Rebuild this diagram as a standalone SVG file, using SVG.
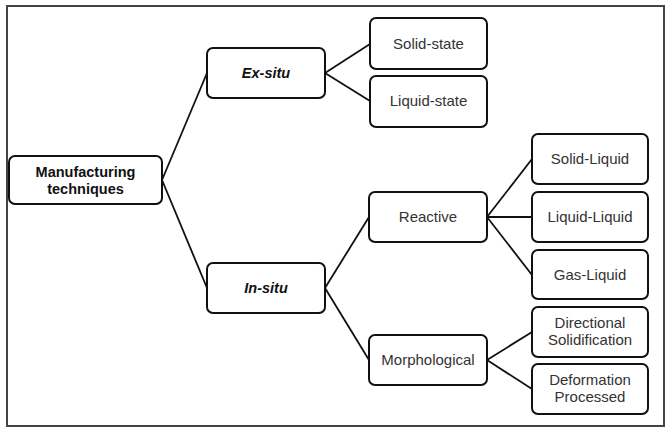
<svg xmlns="http://www.w3.org/2000/svg" width="665" height="428" viewBox="0 0 665 428">
<style>
.box{fill:#fff;stroke:#111;stroke-width:2}
.t{font-family:"Liberation Sans",Arial,sans-serif;font-size:15px;fill:#333;text-anchor:middle}
.b{font-weight:bold;fill:#111;font-size:14.5px}
.i{font-style:italic}
.c line{stroke:#111;stroke-width:1.8}
</style>
<rect x="0" y="0" width="665" height="428" fill="#fff"/>
<rect x="7" y="6" width="657" height="420" fill="none" stroke="#444" stroke-width="2"/>
<g class="c" id="connectors">
<line x1="162" y1="180" x2="207" y2="73"/>
<line x1="162" y1="180" x2="207" y2="288"/>
<line x1="325" y1="73" x2="370" y2="44"/>
<line x1="325" y1="73" x2="370" y2="101"/>
<line x1="325" y1="288" x2="369" y2="217"/>
<line x1="325" y1="288" x2="369" y2="360"/>
<line x1="487" y1="217" x2="532" y2="159"/>
<line x1="487" y1="217" x2="532" y2="217"/>
<line x1="487" y1="217" x2="532" y2="275"/>
<line x1="487" y1="360" x2="532" y2="332"/>
<line x1="487" y1="360" x2="532" y2="389"/>
</g>
<g id="manufacturing"><rect class="box" x="9" y="156" width="153" height="48" rx="6"/><text class="t b" x="85.5" y="177">Manufacturing</text><text class="t b" x="85.5" y="194">techniques</text></g>
<g id="exsitu"><rect class="box" x="207" y="48" width="118" height="50" rx="6"/><text class="t b i" x="266" y="78">Ex-situ</text></g>
<g id="insitu"><rect class="box" x="207" y="263" width="118" height="50" rx="6"/><text class="t b i" x="266" y="293">In-situ</text></g>
<g id="solidstate"><rect class="box" x="370" y="18" width="117" height="51" rx="6"/><text class="t" x="428.5" y="49">Solid-state</text></g>
<g id="liquidstate"><rect class="box" x="370" y="76" width="117" height="51" rx="6"/><text class="t" x="428.5" y="106">Liquid-state</text></g>
<g id="reactive"><rect class="box" x="369" y="192" width="118" height="50" rx="6"/><text class="t" x="428" y="222">Reactive</text></g>
<g id="morphological"><rect class="box" x="369" y="335" width="118" height="50" rx="6"/><text class="t" x="428" y="365">Morphological</text></g>
<g id="solidliquid"><rect class="box" x="532" y="134" width="116" height="50" rx="6"/><text class="t" x="590" y="164">Solid-Liquid</text></g>
<g id="liquidliquid"><rect class="box" x="532" y="192" width="116" height="50" rx="6"/><text class="t" x="590" y="222">Liquid-Liquid</text></g>
<g id="gasliquid"><rect class="box" x="532" y="250" width="116" height="49" rx="6"/><text class="t" x="590" y="280">Gas-Liquid</text></g>
<g id="directional"><rect class="box" x="532" y="307" width="116" height="50" rx="6"/><text class="t" x="590" y="328">Directional</text><text class="t" x="590" y="345">Solidification</text></g>
<g id="deformation"><rect class="box" x="532" y="364" width="116" height="50" rx="6"/><text class="t" x="590" y="385">Deformation</text><text class="t" x="590" y="402">Processed</text></g>
</svg>
